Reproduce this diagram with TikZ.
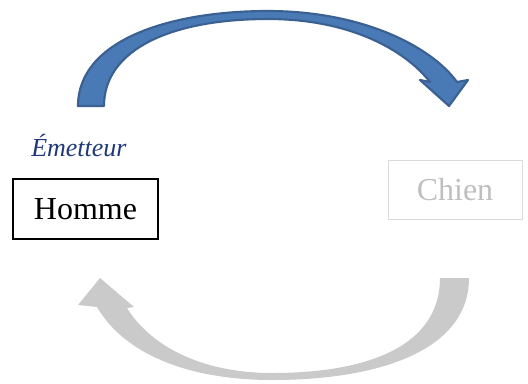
\documentclass[tikz,border=0pt]{standalone}
\usepackage{fontspec}
\setmainfont{Liberation Serif}
\definecolor{flechebleue}{HTML}{4A7AB5}
\definecolor{bordbleu}{HTML}{3B6092}
\definecolor{flechegrise}{HTML}{CACACA}
\definecolor{titrebleu}{HTML}{1F3877}
\tikzset{
  boite/.style={draw,line width=0.8pt,minimum height=45pt,inner sep=0pt,font=\fontsize{24}{28}\selectfont},
}
\begin{document}
\begin{tikzpicture}[x=0.75pt,y=-0.75pt]
\useasboundingbox (0,0) rectangle (528,383);

% fleche du haut
\filldraw[fill=flechebleue,draw=bordbleu,line width=1.6pt,line join=round]
  (78,106) .. controls (78,40) and (170,11) .. (268,11)
  .. controls (360,11) and (430,45) .. (457,82)
  -- (468,80) -- (449,106) -- (420,80) -- (430,82)
  .. controls (405,50) and (350,19) .. (268,19)
  .. controls (170,19) and (104,50) .. (104,106) -- cycle;

% fleche du bas
\fill[flechegrise]
  (469,278) .. controls (469,350) and (380,380) .. (272,380)
  .. controls (190,380) and (125,355) .. (97,307)
  -- (78,305) -- (100,278) -- (134,307) -- (127,308)
  .. controls (150,345) and (200,373) .. (272,373)
  .. controls (370,373) and (440,345) .. (440,278) -- cycle;

\node[anchor=base west,text=titrebleu,font=\fontsize{19.5}{23}\selectfont\itshape,inner sep=0pt] (emetteur) at (31,156) {Émetteur};
\node[boite,minimum width=108.75pt] (homme) at (85.5,209) {Homme};
\node[boite,draw=black!14,text=black!25,line width=0.75pt,minimum width=100.5pt,minimum height=44.25pt] (chien) at (455,189.5) {Chien};

\end{tikzpicture}
\end{document}
